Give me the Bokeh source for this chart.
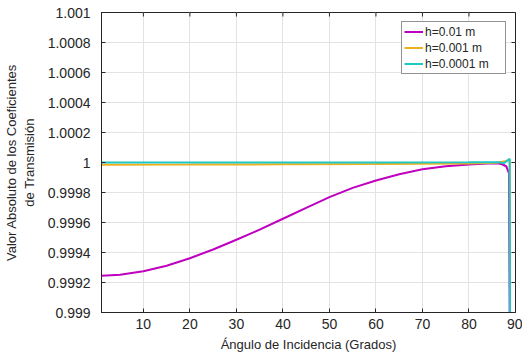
import math
from bokeh.plotting import figure
from bokeh.models import Range1d, FixedTicker, Legend, LegendItem
from bokeh.embed import file_html
from bokeh.resources import INLINE

# Data
ang_h1 = [1, 5, 10, 15, 20, 25, 30, 35, 40, 45, 50, 55, 60, 65, 70, 75, 80, 84, 86, 87, 88, 88.6, 88.9]
val_h1 = [0.999245, 0.999252, 0.999275, 0.999312, 0.999362, 0.999420, 0.999485, 0.999552, 0.999625,
          0.999698, 0.999769, 0.999831, 0.999880, 0.999922, 0.999955, 0.999975, 0.999987, 0.999993,
          0.999995, 0.999990, 0.999975, 0.999930, 0.9980]

ang_h2 = [1, 20, 40, 60, 80, 86, 88, 88.75, 88.9]
val_h2 = [0.999985, 0.999986, 0.999988, 0.999990, 0.999994, 0.999998, 1.000010, 1.000020, 0.998]

ang_h3 = [1, 20, 40, 60, 80, 86.5, 87.5, 88.75, 88.9]
val_h3 = [1.000000, 1.000000, 1.000000, 1.000000, 1.000001, 1.000002, 0.999995, 1.000025, 0.998]

x_ticks = [10, 20, 30, 40, 50, 60, 70, 80, 90]
y_ticks = [0.999, 0.9992, 0.9994, 0.9996, 0.9998, 1.0, 1.0002, 1.0004, 1.0006, 1.0008, 1.001]
y_tick_labels = {0.999: "0.999", 0.9992: "0.9992", 0.9994: "0.9994", 0.9996: "0.9996",
                 0.9998: "0.9998", 1.0: "1", 1.0002: "1.0002", 1.0004: "1.0004",
                 1.0006: "1.0006", 1.0008: "1.0008", 1.001: "1.001"}

labels = ["h=0.01 m", "h=0.001 m", "h=0.0001 m"]
colors = ["#bf00bf", "#edb120", "#1ec8c4"]

X_MIN, X_MAX = 1, 90
Y_MIN, Y_MAX = 0.999, 1.001

FONT = "Liberation Sans"
DARK = "#262626"

p = figure(width=522, height=354, output_backend="svg", toolbar_location=None,
           x_range=Range1d(X_MIN, X_MAX), y_range=Range1d(Y_MIN, Y_MAX),
           min_border_left=100, min_border_right=7, min_border_top=12, min_border_bottom=42)
p.background_fill_color = "white"
p.border_fill_color = "white"
p.outline_line_color = DARK
p.outline_line_width = 1

p.xgrid.ticker = FixedTicker(ticks=x_ticks)
p.ygrid.ticker = FixedTicker(ticks=y_ticks)
p.grid.grid_line_color = "#e3e3e3"
p.grid.grid_line_width = 1

r1 = p.line(ang_h1, val_h1, line_color=colors[0], line_width=2)
r2 = p.line(ang_h2, val_h2, line_color=colors[1], line_width=2)
r3 = p.line(ang_h3, val_h3, line_color=colors[2], line_width=2)

# inward ticks on the top and right edges of the box (half of each dash is clipped by the frame)
p.scatter(x_ticks, [Y_MAX] * len(x_ticks), marker="dash", size=8, angle=math.pi / 2,
          line_color=DARK, line_width=1)
p.scatter([X_MAX] * len(y_ticks), y_ticks, marker="dash", size=8,
          line_color=DARK, line_width=1)

for ax in (p.xaxis[0], p.yaxis[0]):
    ax.major_tick_in = 4
    ax.major_tick_out = 0
    ax.minor_tick_in = 0
    ax.minor_tick_out = 0
    ax.axis_line_color = DARK
    ax.major_tick_line_color = DARK
    ax.major_label_text_font = FONT
    ax.major_label_text_font_size = "14px"
    ax.major_label_text_color = DARK
    ax.axis_label_text_font = FONT
    ax.axis_label_text_font_size = "13px"
    ax.axis_label_text_font_style = "normal"
    ax.axis_label_text_color = DARK

p.xaxis.ticker = FixedTicker(ticks=x_ticks)
p.yaxis.ticker = FixedTicker(ticks=y_ticks)
p.yaxis.major_label_overrides = y_tick_labels
p.xaxis.major_label_standoff = 6
p.yaxis.major_label_standoff = 11
p.xaxis.axis_label = "Ángulo de Incidencia (Grados)"
p.yaxis.axis_label = "Valor Absoluto de los Coeficientes\nde Transmisión"
p.xaxis.axis_label_standoff = 5
p.yaxis.axis_label_standoff = 8

legend = Legend(items=[LegendItem(label=labels[0], renderers=[r1]),
                       LegendItem(label=labels[1], renderers=[r2]),
                       LegendItem(label=labels[2], renderers=[r3])],
                location="top_right")
legend.label_text_font = FONT
legend.label_text_font_size = "12px"
legend.label_text_color = DARK
legend.border_line_color = DARK
legend.border_line_width = 1
legend.background_fill_alpha = 1
legend.glyph_width = 19
legend.glyph_height = 15
legend.label_height = 15
legend.label_width = 78
legend.spacing = 1
legend.padding = 2
legend.margin = 9
legend.label_standoff = 2
p.add_layout(legend)

open("out.html", "w").write(file_html(p, INLINE))
